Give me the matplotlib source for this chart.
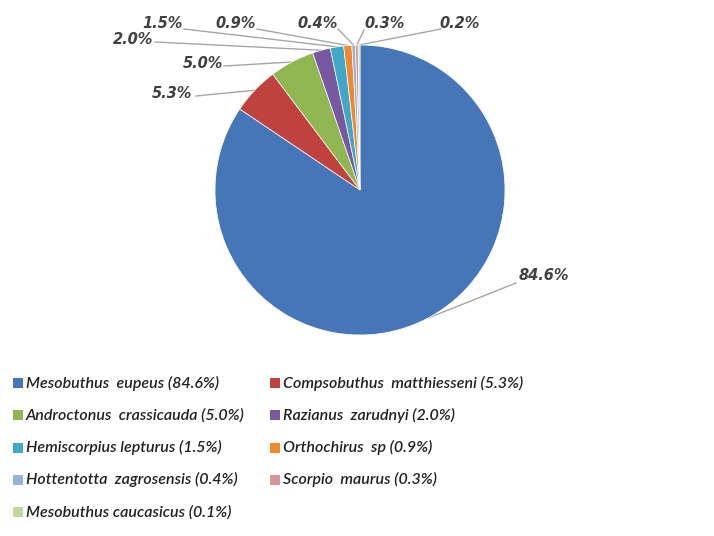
import numpy as np
import matplotlib
matplotlib.use("Agg")
import matplotlib.pyplot as plt
from matplotlib.patches import Rectangle

# Species composition of scorpion specimens
species = [
    "Mesobuthus  eupeus",
    "Compsobuthus  matthiesseni",
    "Androctonus  crassicauda",
    "Razianus  zarudnyi",
    "Hemiscorpius lepturus",
    "Orthochirus  sp",
    "Hottentotta  zagrosensis",
    "Scorpio  maurus",
    "Mesobuthus caucasicus",
]
slice_pct = [84.6, 5.3, 5.0, 2.0, 1.5, 0.9, 0.4, 0.3, 0.2]
legend_pct = [84.6, 5.3, 5.0, 2.0, 1.5, 0.9, 0.4, 0.3, 0.1]
colors = ["#4576B8", "#C0423F", "#8FB650", "#7659A0", "#40A8C6",
          "#F0882F", "#95B3D7", "#D99694", "#C3D69B"]

W, H = 714, 536
fig = plt.figure(figsize=(W / 100, H / 100), dpi=100)
ax = fig.add_axes([0, 0, 1, 1])
ax.set_xlim(0, W)
ax.set_ylim(H, 0)
ax.axis("off")

# Pie drawn in a separate axes over the top part of the figure
cx, cy, r = 360, 190, 145
pax = fig.add_axes([(cx - r) / W, 1 - (cy + r) / H, 2 * r / W, 2 * r / H])
wedges, _ = pax.pie(slice_pct, colors=colors, startangle=90, counterclock=False,
                    wedgeprops=dict(edgecolor="white", linewidth=0.5))
pax.set_xlim(-1, 1)
pax.set_ylim(-1, 1)
pax.set_aspect("auto")
pax.axis("off")

# label text centre and leader-line start (pixel coords)
label_pos = [(544, 276), (172, 93), (203, 63), (133, 40), (163, 24),
             (236, 24), (318, 24), (385, 24), (460, 24)]
line_start = [(516, 283), (196, 96), (224, 66), (155, 42), (184, 29),
              (257, 29), (338, 29), (364, 30), (441, 29)]

label_font = dict(fontfamily="DejaVu Sans", fontsize=10.5, fontweight="bold",
                  fontstyle="italic", color="#404040")
for i, w in enumerate(wedges):
    mid = np.deg2rad((w.theta1 + w.theta2) / 2)
    ex = cx + r * np.cos(mid)
    ey = cy - r * np.sin(mid)
    sx, sy = line_start[i]
    ax.plot([sx, ex], [sy, ey], color="#a6a6a6", lw=1.0, zorder=1)
    tx, ty = label_pos[i]
    ax.text(tx, ty, f"{slice_pct[i]:.1f}%", ha="center", va="center", **label_font)

# legend, row-major in two columns
for i, (name, pct, c) in enumerate(zip(species, legend_pct, colors)):
    row, col = divmod(i, 2)
    x0 = [13, 270][col]
    y0 = 383 + 32.3 * row
    ax.add_patch(Rectangle((x0, y0 - 5), 10, 10, facecolor=c, edgecolor="none"))
    ax.text(x0 + 13, y0, f"{name} ({pct:.1f}%)", ha="left", va="center",
            fontfamily="Lato", fontstyle="italic", fontweight="semibold",
            fontsize=11.5, color="#222222")

fig.savefig("out.png", dpi=100)
